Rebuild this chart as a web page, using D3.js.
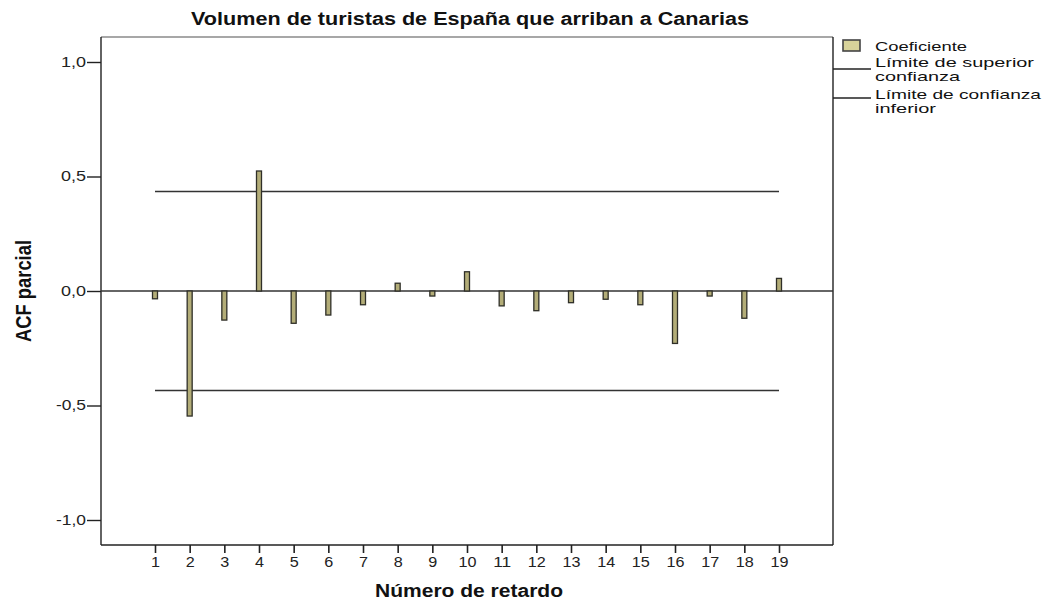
<!DOCTYPE html>
<html>
<head>
<meta charset="utf-8">
<script src="https://cdn.jsdelivr.net/npm/d3@7"></script>
<style>
  html, body { margin: 0; padding: 0; background: #fff; }
  svg { display: block; font-family: "Liberation Sans", Arial, sans-serif; }
</style>
</head>
<body>
<svg id="chart" width="1045" height="602"></svg>
<script>
// Partial autocorrelation by lag
const lags = [1, 2, 3, 4, 5, 6, 7, 8, 9, 10, 11, 12, 13, 14, 15, 16, 17, 18, 19];
const coefficients = [-0.034, -0.546, -0.127, 0.524, -0.141, -0.105, -0.060, 0.034, -0.022,
                      0.084, -0.065, -0.086, -0.051, -0.036, -0.060, -0.229, -0.022, -0.119, 0.055];
const upperLimit = 0.435;
const lowerLimit = -0.435;
const yTicks = [-1.0, -0.5, 0.0, 0.5, 1.0];
const legendItems = ["Coeficiente", "Límite de superior|confianza", "Límite de confianza|inferior"];

const svg = d3.select("#chart");
const plot = { left: 101, right: 833, top: 37, bottom: 545 };

const x = d3.scaleLinear().domain([1, 19]).range([155, 779]);
const y = d3.scaleLinear().domain([-1, 1]).range([520, 62]);
const fmt = v => d3.format(".1f")(v).replace(".", ",").replace("−", "-");

// widen a text run to a fixed length (the chart's type is set wide)
function fit(sel, len) {
  sel.attr("textLength", len).attr("lengthAdjust", "spacingAndGlyphs");
  return sel;
}

// frame
svg.append("line").attr("x1", plot.left).attr("x2", plot.right)
  .attr("y1", plot.top).attr("y2", plot.top).attr("stroke", "#8a8a8a").attr("stroke-width", 1.3);
svg.append("line").attr("x1", plot.left).attr("x2", plot.right)
  .attr("y1", plot.bottom).attr("y2", plot.bottom).attr("stroke", "#222").attr("stroke-width", 1.4);
svg.append("line").attr("x1", plot.left).attr("x2", plot.left)
  .attr("y1", plot.top).attr("y2", plot.bottom).attr("stroke", "#222").attr("stroke-width", 1.4);
svg.append("line").attr("x1", plot.right).attr("x2", plot.right)
  .attr("y1", plot.top).attr("y2", plot.bottom).attr("stroke", "#222").attr("stroke-width", 1.4);

// y axis
const yAxis = d3.axisLeft(y).tickValues(yTicks).tickSize(14).tickPadding(1).tickFormat(fmt);
const gy = svg.append("g").attr("transform", `translate(${plot.left},0)`).call(yAxis);
gy.select(".domain").remove();
gy.selectAll(".tick line").attr("stroke", "#222").attr("stroke-width", 1.4);
gy.selectAll(".tick text").attr("font-size", 14).attr("fill", "#222")
  .attr("font-family", "'Liberation Sans', Arial, sans-serif")
  .each(function (d) { fit(d3.select(this), d < 0 ? 30 : 25); });

// x axis
const xAxis = d3.axisBottom(x).tickValues(lags).tickSize(8).tickPadding(4).tickFormat(d3.format("d"));
const gx = svg.append("g").attr("transform", `translate(0,${plot.bottom})`).call(xAxis);
gx.select(".domain").remove();
gx.selectAll(".tick line").attr("stroke", "#222").attr("stroke-width", 1.6);
gx.selectAll(".tick text").attr("font-size", 14).attr("fill", "#222")
  .attr("font-family", "'Liberation Sans', Arial, sans-serif")
  .each(function (d) { fit(d3.select(this), d < 10 ? 9 : 18); });

// zero line
svg.append("line")
  .attr("x1", plot.left).attr("x2", plot.right)
  .attr("y1", y(0)).attr("y2", y(0))
  .attr("stroke", "#333").attr("stroke-width", 1.4);

// confidence limits
[upperLimit, lowerLimit].forEach(v => {
  svg.append("line")
    .attr("x1", x(1)).attr("x2", x(19))
    .attr("y1", y(v)).attr("y2", y(v))
    .attr("stroke", "#333").attr("stroke-width", 1.5);
});

// coefficient bars
const barW = 5;
svg.append("g").selectAll("rect")
  .data(lags.map((l, i) => ({ lag: l, v: coefficients[i] })))
  .join("rect")
  .attr("x", d => x(d.lag) - barW / 2)
  .attr("width", barW)
  .attr("y", d => Math.min(y(d.v), y(0)))
  .attr("height", d => Math.abs(y(d.v) - y(0)))
  .attr("fill", "#b3ad78")
  .attr("stroke", "#2f2f28")
  .attr("stroke-width", 1.3);

// title
fit(svg.append("text")
  .attr("x", 191).attr("y", 25)
  .attr("font-size", 17.5).attr("font-weight", "bold").attr("fill", "#111")
  .text("Volumen de turistas de España que arriban a Canarias"), 558);

// axis titles
fit(svg.append("text")
  .attr("x", 375).attr("y", 597)
  .attr("font-size", 17.5).attr("font-weight", "bold").attr("fill", "#111")
  .text("Número de retardo"), 188);

fit(svg.append("text")
  .attr("transform", "translate(31,342) rotate(-90)")
  .attr("font-family", "'Liberation Sans Narrow', 'Arial Narrow', sans-serif")
  .attr("font-size", 22).attr("font-weight", "bold").attr("fill", "#111")
  .text("ACF parcial"), 102);

// legend
const lg = svg.append("g");
lg.append("rect")
  .attr("x", 843).attr("y", 40).attr("width", 17).attr("height", 11)
  .attr("fill", "#d8d39a").attr("stroke", "#444").attr("stroke-width", 1.6);
fit(lg.append("text").attr("x", 875).attr("y", 51)
  .attr("font-size", 13.5).attr("fill", "#111").text(legendItems[0]), 92);

const legendLines = [
  { ly: 69, base: 67, widths: [159, 85] },
  { ly: 98, base: 99, widths: [166, 61] }
];
legendLines.forEach((row, i) => {
  lg.append("line")
    .attr("x1", 833).attr("x2", 871).attr("y1", row.ly).attr("y2", row.ly)
    .attr("stroke", "#222").attr("stroke-width", 1.4);
  const parts = legendItems[i + 1].split("|");
  parts.forEach((p, j) => {
    fit(lg.append("text").attr("font-size", 13.5).attr("fill", "#111")
      .attr("x", 875).attr("y", row.base + j * 14).text(p), row.widths[j]);
  });
});
</script>
</body>
</html>
